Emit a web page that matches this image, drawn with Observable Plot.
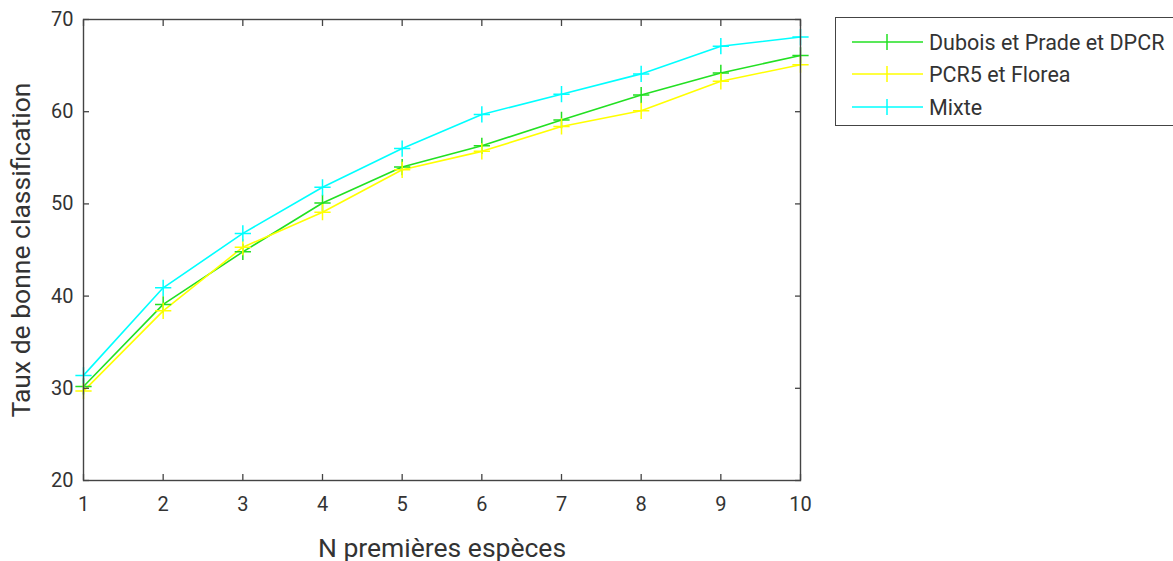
<!DOCTYPE html>
<html>
<head>
<meta charset="utf-8">
<script src="https://cdn.jsdelivr.net/npm/d3@7"></script>
<script src="https://cdn.jsdelivr.net/npm/@observablehq/plot@0.6"></script>
<style>
  html, body { margin: 0; padding: 0; background: #fff; }
  #wrap { position: relative; width: 1173px; height: 561px; overflow: hidden; font-family: Roboto, sans-serif; }
  #wrap svg.plot { position: absolute; left: 0; top: 0; }
  g[aria-label="x-axis tick label"] text, g[aria-label="y-axis tick label"] text { font-size: 20px !important; }
  g[aria-label="x-axis label"] text, g[aria-label="y-axis label"] text { font-size: 26.5px !important; }
  #legend { position: absolute; left: 835px; top: 17px; width: 350px; height: 109px; border: 1px solid #444; box-sizing: border-box; background: #fff; }
  .row { position: absolute; left: 0; height: 24px; display: flex; align-items: center; }
  .row svg { margin-left: 15px; }
  .row span { margin-left: 6px; font-size: 21.5px; color: #333; }
</style>
</head>
<body>
<div id="wrap"></div>
<script>
const xValues = [1, 2, 3, 4, 5, 6, 7, 8, 9, 10];
const seriesNames = ["Dubois et Prade et DPCR", "PCR5 et Florea", "Mixte"];
const seriesColors = ["#22e022", "#ffff00", "#00ffff"];
const duboisValues = [30.2, 39.1, 44.8, 50.1, 54.0, 56.3, 59.1, 61.8, 64.2, 66.1];
const pcr5Values   = [29.7, 38.4, 45.3, 49.1, 53.7, 55.7, 58.4, 60.1, 63.3, 65.1];
const mixteValues  = [31.4, 40.9, 46.8, 51.8, 56.0, 59.7, 61.9, 64.1, 67.1, 68.1];
const yTicks = [20, 30, 40, 50, 60, 70];

const allSeries = [duboisValues, pcr5Values, mixteValues];
const data = allSeries.flatMap((vals, i) => vals.map((v, j) => ({x: xValues[j], y: v, s: seriesNames[i]})));

const ink = "#444";
const chart = Plot.plot({
  width: 1173,
  height: 561,
  marginLeft: 83,
  marginRight: 373,
  marginTop: 19,
  marginBottom: 81,
  style: {fontFamily: "Roboto, sans-serif", color: "#333", background: "white"},
  x: {domain: [1, 10]},
  y: {domain: [20, 70]},
  color: {domain: seriesNames, range: seriesColors},
  marks: [
    Plot.line(data, {x: "x", y: "y", z: "s", stroke: "s", strokeWidth: 1.6}),
    Plot.dot(data, {x: "x", y: "y", stroke: "s", symbol: "plus", r: 5.3, strokeWidth: 1.5}),
    Plot.frame({stroke: ink, strokeWidth: 1.4}),
    Plot.axisX(xValues, {anchor: "bottom", tickSize: -6, tickFormat: () => "", label: null, stroke: ink, strokeWidth: 1.3}),
    Plot.axisX(xValues, {anchor: "top", tickSize: -6, tickFormat: () => "", label: null, stroke: ink, strokeWidth: 1.3}),
    Plot.axisX(xValues, {anchor: "bottom", tickSize: 0, tickPadding: 16, fontSize: 20, label: "N premières espèces", labelAnchor: "center", labelArrow: "none", labelOffset: 76, fill: "#333"}),
    Plot.axisY(yTicks, {anchor: "left", tickSize: -6, tickFormat: () => "", label: null, stroke: ink, strokeWidth: 1.3}),
    Plot.axisY(yTicks, {anchor: "right", tickSize: -6, tickFormat: () => "", label: null, stroke: ink, strokeWidth: 1.3}),
    Plot.axisY(yTicks, {anchor: "left", tickSize: 0, tickPadding: 10, fontSize: 20, label: "Taux de bonne classification", labelAnchor: "center", labelOffset: 72, labelArrow: "none", fill: "#333"})
  ]
});
chart.classList.add("plot");
const wrap = document.getElementById("wrap");
wrap.appendChild(chart);

const legend = document.createElement("div");
legend.id = "legend";
const rowCenters = [24, 56, 89];
seriesNames.forEach((name, i) => {
  const row = document.createElement("div");
  row.className = "row";
  row.style.top = (rowCenters[i] - 12) + "px";
  const c = seriesColors[i];
  row.innerHTML = `<svg width="72" height="20"><line x1="1" y1="10" x2="72" y2="10" stroke="${c}" stroke-width="1.6"/><line x1="36" y1="2" x2="36" y2="18" stroke="${c}" stroke-width="1.5"/></svg><span>${name}</span>`;
  legend.appendChild(row);
});
wrap.appendChild(legend);
</script>
</body>
</html>
